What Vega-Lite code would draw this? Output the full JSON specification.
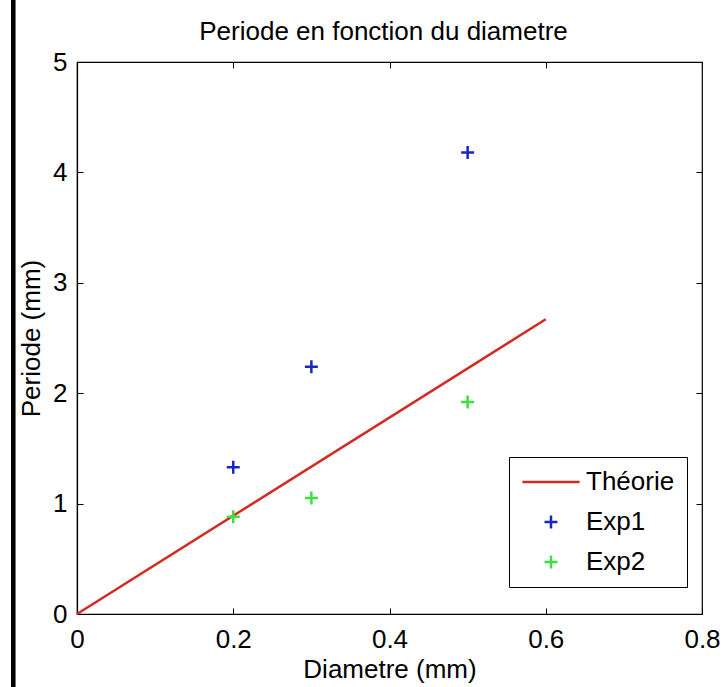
{
  "$schema": "https://vega.github.io/schema/vega-lite/v6.json",
  "width": 625,
  "height": 552,
  "autosize": {"type": "none"},
  "padding": {"left": 77, "top": 62, "right": 20, "bottom": 73},
  "background": "white",
  "title": {
    "text": "Periode en fonction du diametre",
    "font": "Liberation Sans",
    "fontSize": 26,
    "fontWeight": "normal",
    "color": "black",
    "offset": -51,
    "dx": -6
  },
  "config": {
    "view": {"stroke": "black", "strokeWidth": 1.2},
    "axis": {
      "domainColor": "black",
      "domainWidth": 1.2,
      "tickColor": "black",
      "tickWidth": 1,
      "grid": false,
      "labelFont": "Liberation Sans",
      "labelFontSize": 26,
      "labelColor": "black",
      "labelFlush": false,
      "labelOverlap": false,
      "titleFont": "Liberation Sans",
      "titleFontSize": 26,
      "titleFontWeight": "normal",
      "titleColor": "black"
    }
  },
  "data": {
    "values": [
      {"serie": "Théorie", "diametre": 0.0, "periode": 0.0},
      {"serie": "Théorie", "diametre": 0.6, "periode": 2.67},
      {"serie": "Exp1", "diametre": 0.2, "periode": 1.33},
      {"serie": "Exp1", "diametre": 0.3, "periode": 2.24},
      {"serie": "Exp1", "diametre": 0.5, "periode": 4.18},
      {"serie": "Exp2", "diametre": 0.2, "periode": 0.88},
      {"serie": "Exp2", "diametre": 0.3, "periode": 1.05},
      {"serie": "Exp2", "diametre": 0.5, "periode": 1.92}
    ]
  },
  "resolve": {"axis": {"x": "independent", "y": "independent"}},
  "layer": [
    {
      "transform": [{"filter": "datum.serie === 'Théorie'"}],
      "mark": {"type": "line", "strokeWidth": 2.5},
      "encoding": {
        "x": {
          "field": "diametre", "type": "quantitative",
          "scale": {"domain": [0, 0.8], "nice": false, "zero": false},
          "axis": {"orient": "bottom", "values": [0, 0.2, 0.4, 0.6, 0.8], "format": "~g", "tickSize": -6, "labelPadding": 18, "title": "Diametre (mm)", "titlePadding": 4}
        },
        "y": {
          "field": "periode", "type": "quantitative",
          "scale": {"domain": [0, 5], "nice": false, "zero": false},
          "axis": {"orient": "left", "values": [0, 1, 2, 3, 4, 5], "format": "~g", "tickSize": -6, "labelPadding": 16, "title": "Periode (mm)", "titlePadding": 8}
        },
        "color": {
          "field": "serie", "type": "nominal",
          "scale": {"domain": ["Théorie", "Exp1", "Exp2"], "range": ["#d42a22", "#1a26c0", "#3ee03e"]},
          "legend": {
            "orient": "none", "legendX": 432, "legendY": 395,
            "title": null,
            "strokeColor": "black", "fillColor": "white", "padding": 12,
            "labelFont": "Liberation Sans", "labelFontSize": 26, "labelColor": "black",
            "symbolSize": 169, "symbolStrokeWidth": 2.5, "symbolOffset": 17, "labelOffset": 22,
            "rowPadding": 14
          }
        }
      }
    },
    {
      "transform": [{"filter": "datum.serie !== 'Théorie'"}],
      "mark": {"type": "point", "filled": false, "strokeWidth": 2.5, "size": 169, "opacity": 1},
      "encoding": {
        "x": {
          "field": "diametre", "type": "quantitative",
          "scale": {"domain": [0, 0.8], "nice": false, "zero": false},
          "axis": {"orient": "top", "values": [0, 0.2, 0.4, 0.6, 0.8], "tickSize": -6, "labels": false, "domain": false, "title": null}
        },
        "y": {
          "field": "periode", "type": "quantitative",
          "scale": {"domain": [0, 5], "nice": false, "zero": false},
          "axis": {"orient": "right", "values": [0, 1, 2, 3, 4, 5], "tickSize": -6, "labels": false, "domain": false, "title": null}
        },
        "color": {"field": "serie", "type": "nominal"},
        "shape": {
          "field": "serie", "type": "nominal",
          "scale": {"domain": ["Théorie", "Exp1", "Exp2"], "range": ["M-4.4,0H4.4", "M-1,0H1M0,-1V1", "M-1,0H1M0,-1V1"]}
        }
      }
    },
    {
      "mark": {"type": "rule", "color": "black", "strokeWidth": 4, "clip": false},
      "encoding": {
        "x": {"datum": -0.0818, "type": "quantitative", "scale": {"domain": [0, 0.8], "nice": false, "zero": false}, "axis": null},
        "y": {"datum": 5.6, "type": "quantitative", "scale": {"domain": [0, 5], "nice": false, "zero": false}, "axis": null},
        "y2": {"datum": -0.7}
      }
    }
  ]
}
